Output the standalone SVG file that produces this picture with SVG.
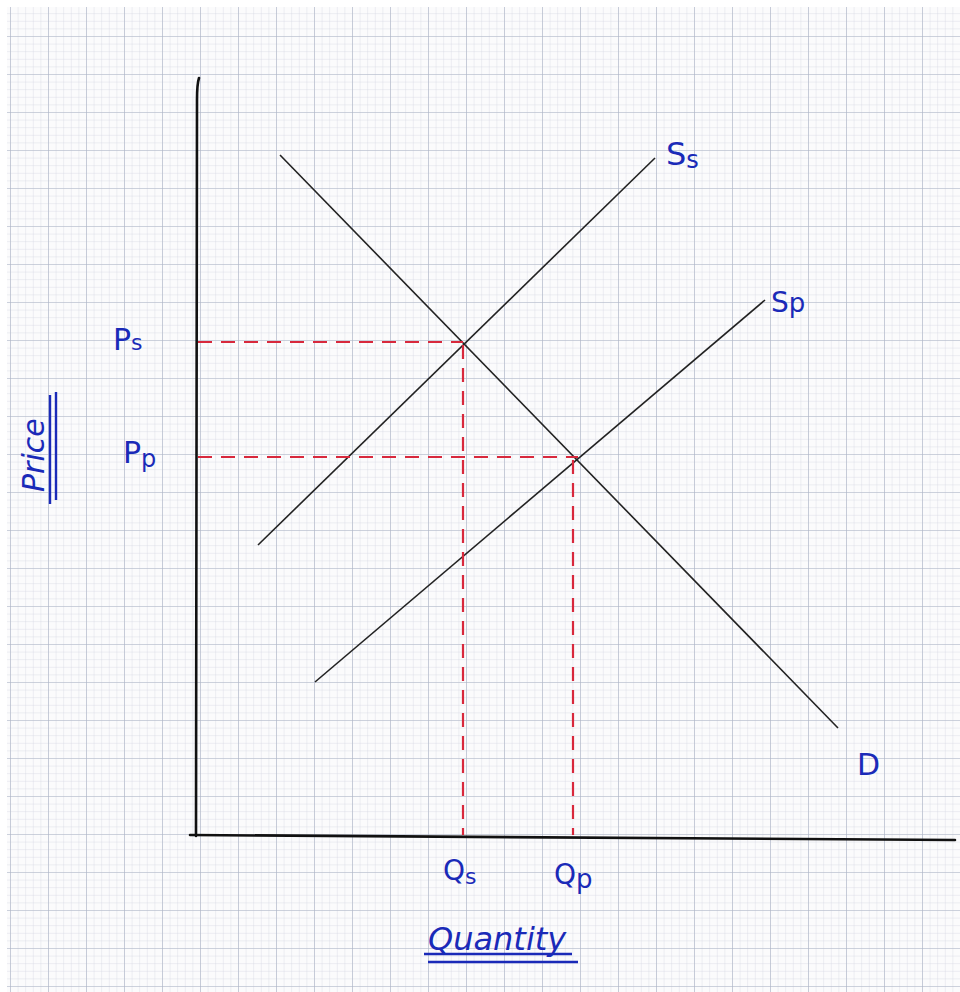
<svg xmlns="http://www.w3.org/2000/svg" width="960" height="992" viewBox="0 0 960 992">
<defs>
<pattern id="minor" patternUnits="userSpaceOnUse" x="10" y="-2" width="7.6" height="7.6">
<path d="M0 0V7.6M0 0H7.6" fill="none" stroke="#d3d7e2" stroke-width="0.8"/>
</pattern>
<pattern id="major" patternUnits="userSpaceOnUse" x="10" y="-2" width="38" height="38">
<path d="M0 0V38M0 0H38" fill="none" stroke="#aeb5c6" stroke-width="1.2"/>
</pattern>
</defs>
<style>
.ax{stroke:#111;stroke-width:2.6;fill:none;stroke-linecap:round}
.ln{stroke:#222;stroke-width:1.6;fill:none}
.dash{stroke:#d8283c;stroke-width:2.2;fill:none;stroke-dasharray:14 9}
.lbl{font-family:"DejaVu Sans",sans-serif;fill:#1a2ab8}
.ul{stroke:#1a2ab8;stroke-width:2.4;fill:none}
</style>
<rect width="960" height="992" fill="#ffffff"/>
<rect x="7" y="7" width="953" height="985" fill="#fbfbfc"/>
<rect x="7" y="7" width="953" height="985" fill="url(#minor)"/>
<rect x="7" y="7" width="953" height="985" fill="url(#major)"/>
<g id="axes">
<path class="ax" d="M199 78 Q197 84 197 100 L196 836"/>
<path class="ax" d="M190 835 L955 840"/>
</g>
<g id="connectors">
<line id="demand" class="ln" x1="280" y1="155" x2="838" y2="728"/>
<line id="supply-s" class="ln" x1="258" y1="545" x2="655" y2="158"/>
<line id="supply-p" class="ln" x1="315" y1="682" x2="765" y2="300"/>
<path class="dash" d="M198 342 H463"/>
<path class="dash" d="M463 345 V835"/>
<path class="dash" d="M198 457 H578"/>
<path class="dash" d="M573 460 V835"/>
</g>
<g id="label-ps"><text class="lbl" x="113" y="350" font-size="30">P<tspan font-size="22">s</tspan></text></g>
<g id="label-pp"><text class="lbl" x="123" y="463" font-size="30">P<tspan font-size="24" dy="4">p</tspan></text></g>
<g id="label-ss"><text class="lbl" x="666" y="165" font-size="32">S<tspan font-size="24" dy="3">s</tspan></text></g>
<g id="label-sp"><text class="lbl" x="771" y="312" font-size="28">S<tspan font-size="26">p</tspan></text></g>
<g id="label-d"><text class="lbl" x="857" y="775" font-size="30">D</text></g>
<g id="label-qs"><text class="lbl" x="443" y="880" font-size="28">Q<tspan font-size="22" dy="4">s</tspan></text></g>
<g id="label-qp"><text class="lbl" x="554" y="884" font-size="28">Q<tspan font-size="26" dy="4">p</tspan></text></g>
<g id="label-quantity">
<text class="lbl" x="428" y="950" font-size="32" font-style="italic">Quantity</text>
<path class="ul" d="M424 954 H572 M428 962 H578"/>
</g>
<g id="label-price">
<text class="lbl" transform="translate(44 492) rotate(-90)" font-size="30" font-style="italic">Price</text>
<path class="ul" d="M50 395 V504 M56 392 V500"/>
</g>
</svg>
